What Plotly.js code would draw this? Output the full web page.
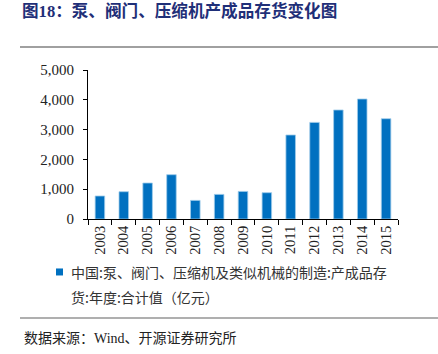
<!DOCTYPE html>
<html>
<head>
<meta charset="utf-8">
<script src="https://cdn.plot.ly/plotly-3.0.1.min.js"></script>
<style>html,body{margin:0;padding:0;background:#fff;}#chart{width:438px;height:354px;}</style>
</head>
<body>
<div id="chart"></div>
<script>
const years = ['2003','2004','2005','2006','2007','2008','2009','2010','2011','2012','2013','2014','2015'];
const inventory = [772, 916, 1208, 1487, 624, 826, 926, 883, 2819, 3242, 3658, 4027, 3366];
const yTicks = [0, 1000, 2000, 3000, 4000, 5000];
const yTickLabels = ['0', '1,000', '2,000', '3,000', '4,000', '5,000'];
const seriesName = '中国:泵、阀门、压缩机及类似机械的制造:产成品存货:年度:合计值（亿元）';
const legendLine1 = '中国:泵、阀门、压缩机及类似机械的制造:产成品存';
const legendLine2 = '货:年度:合计值（亿元）';
const titleText = '<b>图18：泵、阀门、压缩机产成品存货变化图</b>';
const sourceText = '数据来源：Wind、开源证券研究所';

const cjk = '"Liberation Serif", "Noto Sans CJK SC", serif';

const trace = {
  type: 'bar',
  x: years,
  y: inventory,
  name: seriesName,
  marker: {color: '#0070C0', line: {color: '#9FCBEA', width: 0.8}},
  showlegend: false,
  hoverinfo: 'x+y'
};

const layout = {
  width: 438,
  height: 354,
  margin: {l: 88, r: 40, t: 70, b: 135},
  paper_bgcolor: '#ffffff',
  plot_bgcolor: '#ffffff',
  bargap: 0.6,
  showlegend: false,
  font: {family: cjk, color: '#222222', size: 13},
  xaxis: {
    type: 'category',
    tickangle: -90,
    ticks: 'outside',
    tickson: 'boundaries',
    ticklen: 5,
    tickcolor: '#000',
    showline: true,
    linecolor: '#000',
    linewidth: 1,
    showgrid: false,
    zeroline: false,
    tickfont: {family: '"Liberation Serif", serif', size: 14.5, color: '#222'},
    fixedrange: true
  },
  yaxis: {
    range: [0, 5000],
    tickvals: yTicks,
    ticktext: yTickLabels,
    ticks: 'outside',
    ticklen: 4,
    tickcolor: '#000',
    showline: true,
    linecolor: '#000',
    linewidth: 1,
    showgrid: false,
    zeroline: false,
    ticklabelstandoff: 6,
    tickfont: {family: '"Liberation Serif", serif', size: 15, color: '#222'},
    fixedrange: true
  },
  shapes: [
    {type: 'line', xref: 'paper', yref: 'paper', x0: -0.2194, x1: 1.129, y0: 1.1544, y1: 1.1544, line: {color: '#808080', width: 1.5}},
    {type: 'line', xref: 'paper', yref: 'paper', x0: -0.2194, x1: 1.129, y0: -0.6644, y1: -0.6644, line: {color: '#606060', width: 1.2}},
    {type: 'rect', xref: 'paper', yref: 'paper', x0: -0.1032, x1: -0.0806, y0: -0.379, y1: -0.332, fillcolor: '#0070C0', line: {width: 0}}
  ],
  annotations: [
    {xref: 'paper', yref: 'paper', x: -0.2194, y: 1.396, xanchor: 'left', yanchor: 'middle', showarrow: false,
     text: titleText, font: {family: '"Liberation Serif", "Noto Sans CJK SC", serif', size: 16.6, color: '#1F2F78'}},
    {xref: 'paper', yref: 'paper', x: -0.0613, y: -0.3557, xanchor: 'left', yanchor: 'middle', showarrow: false,
     text: legendLine1, font: {family: '"Noto Sans CJK SC", sans-serif', size: 14, color: '#333'}},
    {xref: 'paper', yref: 'paper', x: -0.0613, y: -0.5235, xanchor: 'left', yanchor: 'middle', showarrow: false,
     text: legendLine2, font: {family: '"Noto Sans CJK SC", sans-serif', size: 14, color: '#333'}},
    {xref: 'paper', yref: 'paper', x: -0.2129, y: -0.7987, xanchor: 'left', yanchor: 'middle', showarrow: false,
     text: sourceText, font: {family: '"Liberation Serif", "Noto Sans CJK SC", serif', size: 14, color: '#222'}}
  ]
};

Plotly.newPlot('chart', [trace], layout, {displayModeBar: false, staticPlot: true});
</script>
</body>
</html>
